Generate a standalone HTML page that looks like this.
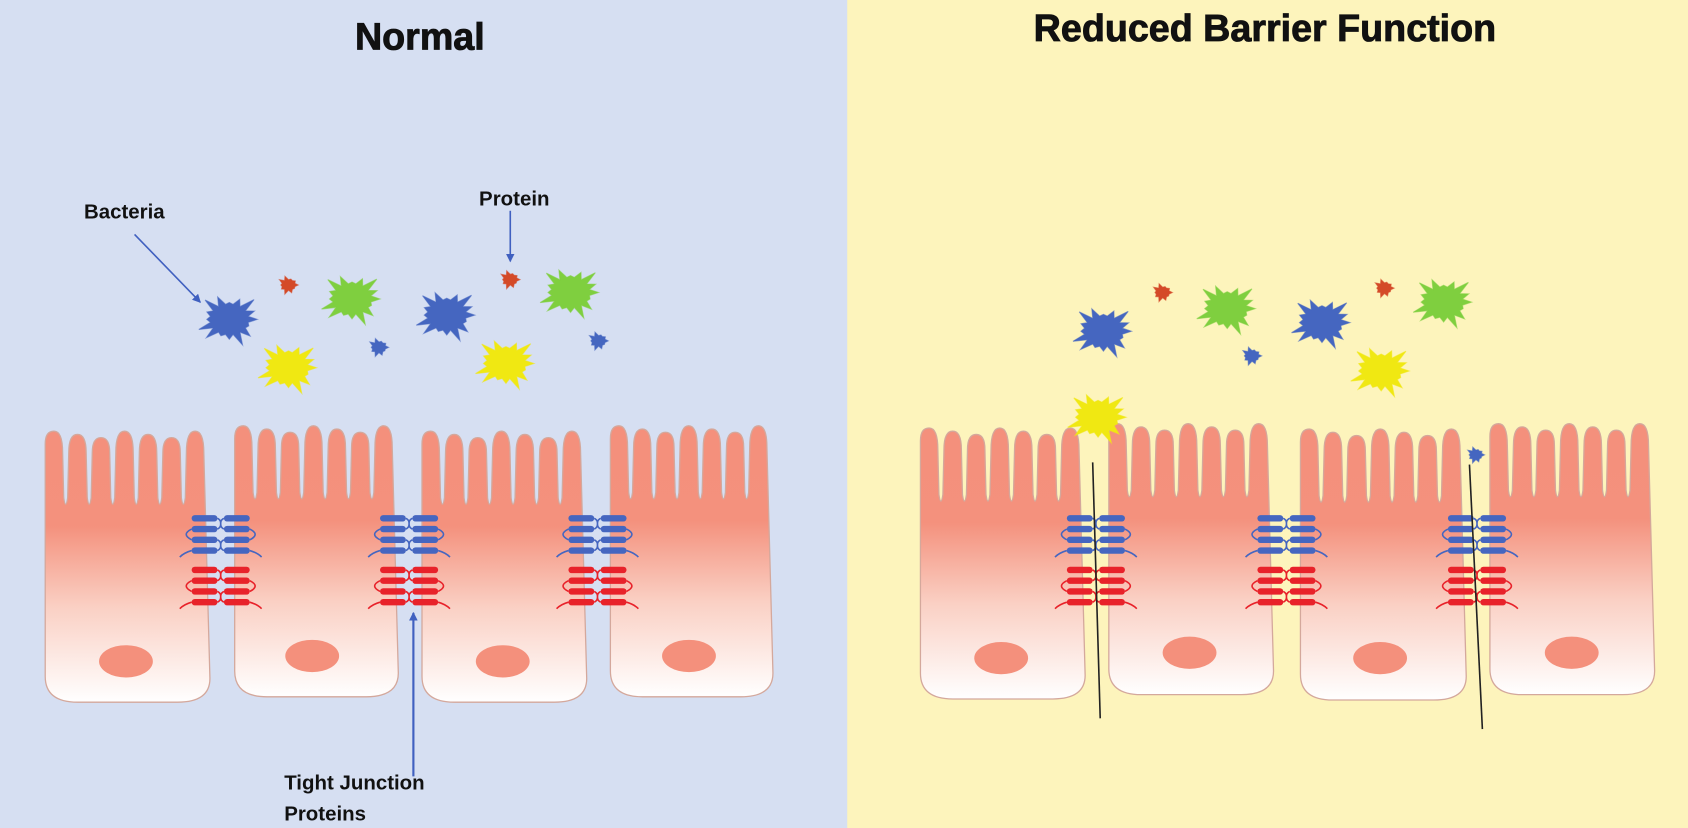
<!DOCTYPE html>
<html><head><meta charset="utf-8"><style>
html,body{margin:0;padding:0;width:1688px;height:828px;overflow:hidden;background:#d6dff2}
svg{display:block}
text{font-family:"Liberation Sans",Arial,sans-serif;font-weight:bold;fill:#111}
</style></head><body>
<svg id="s" width="1688" height="828" viewBox="0 0 1568 770" preserveAspectRatio="none" xmlns="http://www.w3.org/2000/svg">
<defs>
<linearGradient id="cg" x1="0" y1="0" x2="0" y2="1" gradientUnits="objectBoundingBox">
<stop offset="0" stop-color="#f4907c"/><stop offset="0.35" stop-color="#f4917d"/><stop offset="0.65" stop-color="#fad0c4"/><stop offset="1" stop-color="#ffffff"/>
</linearGradient>
<marker id="ab" markerWidth="8" markerHeight="8" refX="7" refY="4" orient="auto" markerUnits="userSpaceOnUse"><path d="M0,0 L8,4 L0,8 z" fill="#4060c0"/></marker>
</defs>
<rect x="0" y="0" width="787" height="770" fill="#d6dff2"/>
<rect x="787" y="0" width="781" height="770" fill="#fdf4bc"/>
<g id="g"></g>
<text x="390" y="46" font-size="35" text-anchor="middle" stroke="#111" stroke-width="0.8">Normal</text>
<text x="1175" y="38" font-size="35" text-anchor="middle" stroke="#111" stroke-width="0.8">Reduced Barrier Function</text>
<text x="78" y="203" font-size="19">Bacteria</text>
<text x="445" y="191" font-size="19">Protein</text>
<text x="264" y="734" font-size="19">Tight Junction</text>
<text x="264" y="763" font-size="19">Proteins</text>
<line x1="125" y1="218" x2="186" y2="281" stroke="#4060c0" stroke-width="1.5" marker-end="url(#ab)"/>
<line x1="474" y1="196" x2="474" y2="243" stroke="#4060c0" stroke-width="1.5" marker-end="url(#ab)"/>
<line x1="384" y1="722" x2="384" y2="570" stroke="#4060c0" stroke-width="2" marker-end="url(#ab)"/>
</svg>
<script>
var g=document.getElementById('g'),h='';
function cell(x0,x1,top){
  var w=x1-x0,n=7,fw=w/n;
  var d='M'+x0+','+(top+12)+' ';
  for(var i=0;i<n;i++){
    var a=x0+i*fw,b=a+fw*0.74,c=a+fw;
    var t=top+ (i%3)*3;
    d+='Q'+a+','+t+' '+(a+fw*0.37)+','+t+' Q'+b+','+t+' '+b+','+(top+20)+' ';
    if(i<n-1){d+='L'+(b+1)+','+(top+62)+' Q'+(a+fw*0.87)+','+(top+74)+' '+(c-1)+','+(top+62)+' L'+c+','+(top+20)+' ';}
  }
  d+='L'+x1+','+(top+230)+' Q'+x1+','+(top+252)+' '+(x1-30)+','+(top+252)+' L'+(x0+30)+','+(top+252)+' Q'+x0+','+(top+252)+' '+x0+','+(top+228)+' Z';
  h+='<path d="'+d+'" fill="url(#cg)" stroke="#d4a89c" stroke-width="1.2"/>';
}
function nuc(x,y){h+='<ellipse cx="'+x+'" cy="'+y+'" rx="25" ry="15" fill="#f4907c"/>';}
function junc(x,y,col){
  for(var i=0;i<4;i++){var yy=y+i*10;
    h+='<rect x="'+(x-27)+'" y="'+(yy-3)+'" width="24" height="6" rx="3" fill="'+col+'"/>';
    h+='<rect x="'+(x+3)+'" y="'+(yy-3)+'" width="24" height="6" rx="3" fill="'+col+'"/>';
  }
  h+='<path d="M'+(x-3)+','+y+' C'+(x+3)+','+(y+3)+' '+(x-3)+','+(y+7)+' '+(x+3)+','+(y+10)+' M'+(x+3)+','+y+' C'+(x-3)+','+(y+3)+' '+(x+3)+','+(y+7)+' '+(x-3)+','+(y+10)+'" fill="none" stroke="'+col+'" stroke-width="1.5"/>';
  h+='<path d="M'+(x-27)+','+(y+10)+' Q'+(x-37)+','+(y+15)+' '+(x-27)+','+(y+20)+' M'+(x+27)+','+(y+10)+' Q'+(x+37)+','+(y+15)+' '+(x+27)+','+(y+20)+'" fill="none" stroke="'+col+'" stroke-width="1.5"/>';
  h+='<path d="M'+(x-3)+','+(y+20)+' C'+(x+3)+','+(y+23)+' '+(x-3)+','+(y+27)+' '+(x+3)+','+(y+30)+' M'+(x+3)+','+(y+20)+' C'+(x-3)+','+(y+23)+' '+(x+3)+','+(y+27)+' '+(x-3)+','+(y+30)+'" fill="none" stroke="'+col+'" stroke-width="1.5"/>';
  h+='<path d="M'+(x-27)+','+(y+30)+' Q'+(x-34)+','+(y+32)+' '+(x-38)+','+(y+36)+' M'+(x+27)+','+(y+30)+' Q'+(x+34)+','+(y+32)+' '+(x+38)+','+(y+36)+'" fill="none" stroke="'+col+'" stroke-width="1.5"/>';
}
function star(x,y,r,col,n,sx){
  n=n||16;sx=sx||1.25;var p=[];
  for(var i=0;i<2*n;i++){var a=i*Math.PI/n,rr=(i%2?r*0.55:r*(0.8+0.2*Math.sin(i*2.3)));
    p.push((x+Math.cos(a)*rr*sx).toFixed(1)+','+(y+Math.sin(a)*rr).toFixed(1));}
  h+='<polygon points="'+p.join(' ')+'" fill="'+col+'" stroke="'+col+'" stroke-opacity="0.6"/>';
}
var L=[[42,195,401],[218,370,396],[392,545,401],[567,718,396]];
var R=[[855,1008,398],[1030,1183,394],[1208,1362,399],[1384,1537,394]];
L.concat(R).forEach(function(c){cell(c[0],c[1],c[2]);});
[[117,615],[290,610],[467,615],[640,610],[930,612],[1105,607],[1282,612],[1460,607]].forEach(function(n){nuc(n[0],n[1]);});
[205,380,555,1018,1195,1372].forEach(function(x){junc(x,482,'#4566c0');junc(x,530,'#e8222a');});
var B='#4566c0',Rd='#d44a28',G='#7fcf3f',Y='#f0e812';
[[213,297,26,B],[268,265,9,Rd,10],[327,278,26,G],[268,342,26,Y],[352,323,9,B,10],[415,293,26,B],[474,260,9,Rd,10],[530,272,26,G],[470,338,26,Y],[556,317,9,B,10],
 [1025,308,26,B],[1080,272,9,Rd,10],[1140,287,26,G],[1163,331,9,B,10],[1228,300,26,B],[1286,268,9,Rd,10],[1341,281,26,G],[1283,345,26,Y],[1020,388,26,Y],[1371,423,8,B,10]].forEach(function(s){star(s[0],s[1],s[2],s[3],s[4]);});
h+='<line x1="1015" y1="430" x2="1022" y2="668" stroke="#222" stroke-width="1.5"/>';
h+='<line x1="1365" y1="432" x2="1377" y2="678" stroke="#222" stroke-width="1.5"/>';
g.innerHTML=h;
</script>
</body></html>
